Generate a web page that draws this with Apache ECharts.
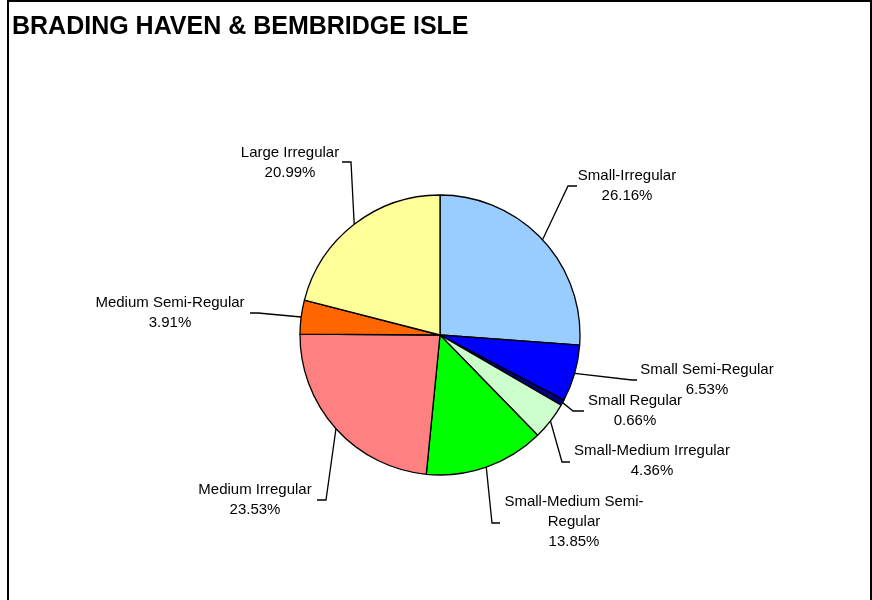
<!DOCTYPE html>
<html>
<head>
<meta charset="utf-8">
<script src="https://cdn.jsdelivr.net/npm/echarts@6/dist/echarts.min.js"></script>
<style>html,body{margin:0;padding:0;background:#fff;}#chart{width:872px;height:600px;}</style>
</head>
<body>
<div id="chart"></div>
<script>
// ---- data ----
const titleText = 'BRADING HAVEN & BEMBRIDGE ISLE';
const categories = ['Small-Irregular', 'Small Semi-Regular', 'Small Regular', 'Small-Medium Irregular',
  'Small-Medium Semi-Regular', 'Medium Irregular', 'Medium Semi-Regular', 'Large Irregular'];
const values = [26.16, 6.53, 0.66, 4.36, 13.85, 23.53, 3.91, 20.99];

// ---- styles / layout (not data) ----
const colors = ['#99CCFF', '#0000FF', '#000080', '#CCFFCC', '#00FF00', '#FF8080', '#FF6600', '#FFFF99'];
// label centre, leader bend and leader end for each category
const labelPlace = {
  'Small-Irregular':           { c: [627, 186], bend: [568, 186], end: [577, 186] },
  'Small Semi-Regular':        { c: [707, 380], bend: [632, 380], end: [637, 380] },
  'Small Regular':             { c: [635, 411], bend: [573, 411], end: [584, 411] },
  'Small-Medium Irregular':    { c: [652, 461], bend: [562, 462], end: [570, 462] },
  'Small-Medium Semi-Regular': { c: [574, 522], bend: [492, 523], end: [500, 523] },
  'Medium Irregular':          { c: [255, 500], bend: [326, 500], end: [317, 500] },
  'Medium Semi-Regular':       { c: [170, 313], bend: [258, 313], end: [250, 313] },
  'Large Irregular':           { c: [290, 163], bend: [351, 162], end: [342, 162] }
};
const wrapNames = { 'Small-Medium Semi-Regular': 'Small-Medium Semi-\nRegular' };

const chart = echarts.init(document.getElementById('chart'), null, { renderer: 'canvas' });
const font = '"Liberation Sans", Arial, sans-serif';

chart.setOption({
  animation: false,
  backgroundColor: '#ffffff',
  title: {
    text: titleText,
    left: 7,
    top: 10,
    textStyle: { fontFamily: font, fontWeight: 'bold', fontSize: 25, color: '#000' }
  },
  graphic: [{
    type: 'rect',
    shape: { x: 8, y: 1, width: 863, height: 700 },
    style: { fill: null, stroke: '#000', lineWidth: 2 },
    silent: true
  }],
  series: [{
    type: 'pie',
    center: [440, 335],
    radius: 140,
    startAngle: 90,
    clockwise: true,
    avoidLabelOverlap: false,
    data: categories.map((n, i) => ({ name: n, value: values[i], itemStyle: { color: colors[i] } })),
    itemStyle: { borderColor: '#000', borderWidth: 1.3 },
    emphasis: { disabled: true },
    label: {
      show: true,
      position: 'outside',
      fontFamily: font,
      fontSize: 15,
      lineHeight: 20,
      color: '#000',
      align: 'center',
      formatter: p => (wrapNames[p.name] || p.name) + '\n' + p.value.toFixed(2) + '%'
    },
    labelLine: { show: true, length: 10, length2: 10, smooth: false, lineStyle: { color: '#000', width: 1.3 } },
    labelLayout: function (params) {
      const name = categories[params.dataIndex];
      const lp = labelPlace[name];
      const start = params.labelLinePoints ? params.labelLinePoints[0] : lp.bend;
      return {
        x: lp.c[0], y: lp.c[1],
        align: 'center', verticalAlign: 'middle',
        labelLinePoints: [start, lp.bend, lp.end]
      };
    }
  }]
});
</script>
</body>
</html>
